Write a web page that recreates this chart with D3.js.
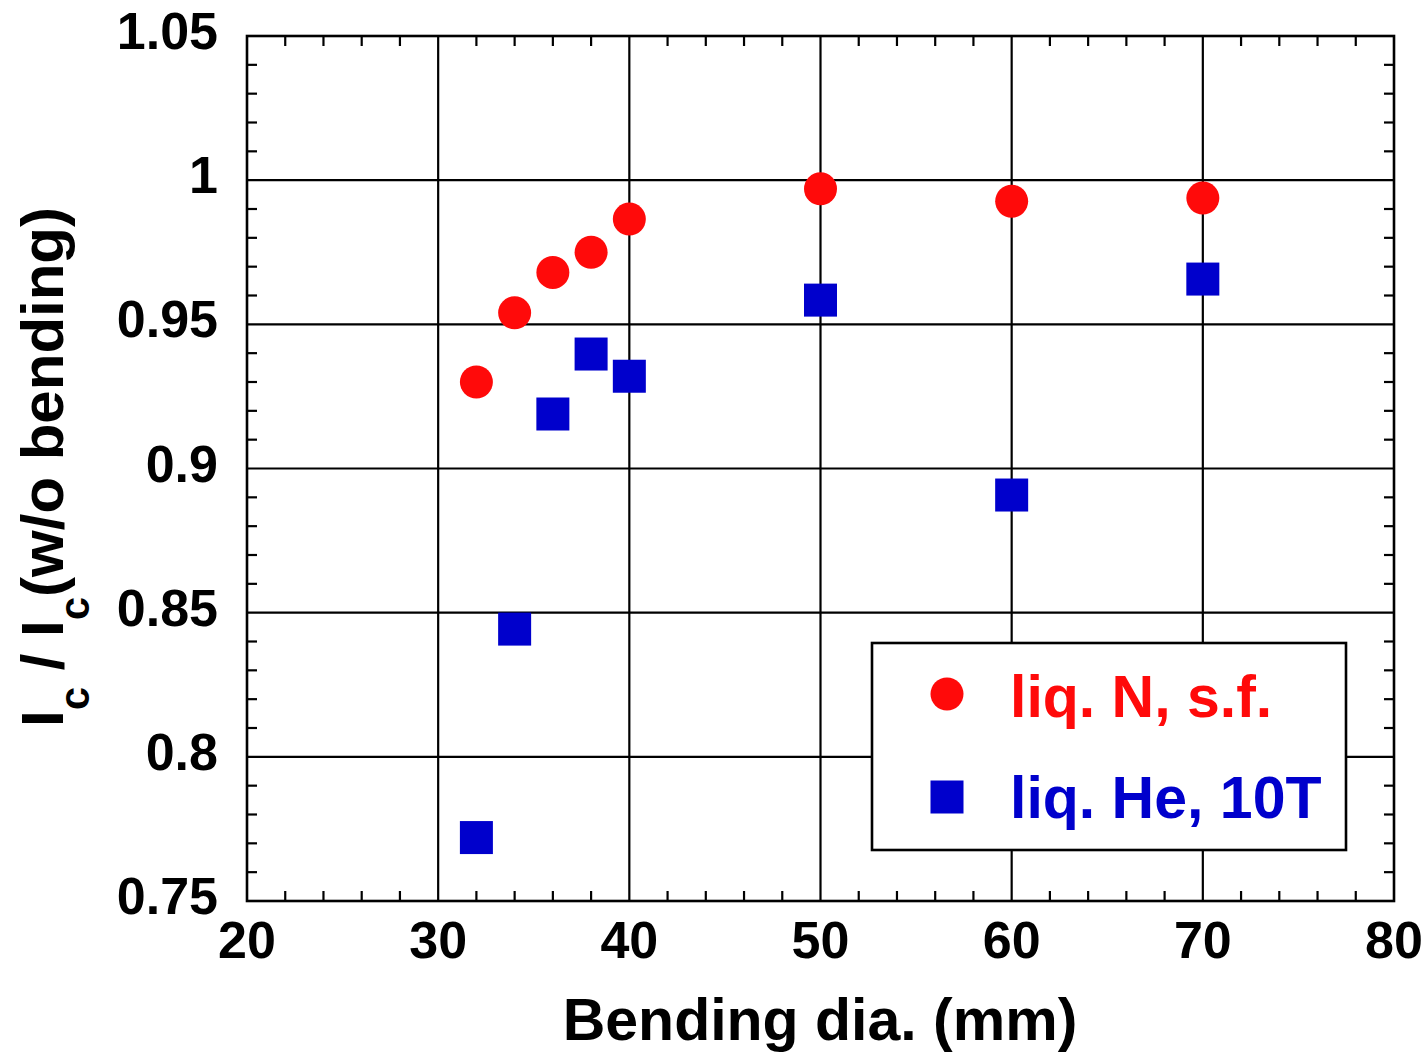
<!DOCTYPE html>
<html>
<head>
<meta charset="utf-8">
<script src="https://cdn.jsdelivr.net/npm/d3@7"></script>
<style>
html,body{margin:0;padding:0;background:#fff;}
svg text{font-family:"Liberation Sans",Arial,sans-serif;font-weight:bold;}
</style>
</head>
<body>
<svg id="chart" width="1427" height="1057"></svg>
<script>
// Data
const bendingDia = [32, 34, 36, 38, 40, 50, 60, 70];
const liqN = [0.930, 0.954, 0.968, 0.975, 0.9865, 0.997, 0.9927, 0.9938];
const liqHe = [0.772, 0.8443, 0.9189, 0.9397, 0.932, 0.9584, 0.8908, 0.9657];
const xTicks = [20, 30, 40, 50, 60, 70, 80];
const yTicks = [0.75, 0.8, 0.85, 0.9, 0.95, 1.0, 1.05];
const yTickLabels = ["0.75", "0.8", "0.85", "0.9", "0.95", "1", "1.05"];
const seriesNames = ["liq. N, s.f.", "liq. He, 10T"];
const seriesColors = ["#ff0a0a", "#0000cc"];

const svg = d3.select("#chart");
const L = 247, R = 1394, T = 36, B = 901;
const x = d3.scaleLinear().domain([20, 80]).range([L, R]);
const y = d3.scaleLinear().domain([0.75, 1.05]).range([B, T]);

// grid lines
const g = svg.append("g");
g.selectAll("line.vx").data(xTicks.slice(1, -1)).enter().append("line")
  .attr("x1", d => x(d)).attr("x2", d => x(d)).attr("y1", T).attr("y2", B)
  .attr("stroke", "#000").attr("stroke-width", 2.2);
g.selectAll("line.hy").data(yTicks.slice(1, -1)).enter().append("line")
  .attr("x1", L).attr("x2", R).attr("y1", d => y(d)).attr("y2", d => y(d))
  .attr("stroke", "#000").attr("stroke-width", 2.2);

// minor ticks
const xMinor = d3.range(20, 80.001, 2).filter(v => v % 10 !== 0);
const yMinor = d3.range(75, 105.001, 1).map(v => v / 100).filter((v, i) => (i % 5) !== 0);
const tl = 10;
xMinor.forEach(v => {
  g.append("line").attr("x1", x(v)).attr("x2", x(v)).attr("y1", B).attr("y2", B - tl).attr("stroke", "#000").attr("stroke-width", 2.2);
  g.append("line").attr("x1", x(v)).attr("x2", x(v)).attr("y1", T).attr("y2", T + tl).attr("stroke", "#000").attr("stroke-width", 2.2);
});
yMinor.forEach(v => {
  g.append("line").attr("x1", L).attr("x2", L + tl).attr("y1", y(v)).attr("y2", y(v)).attr("stroke", "#000").attr("stroke-width", 2.2);
  g.append("line").attr("x1", R).attr("x2", R - tl).attr("y1", y(v)).attr("y2", y(v)).attr("stroke", "#000").attr("stroke-width", 2.2);
});

// frame
svg.append("rect").attr("x", L).attr("y", T).attr("width", R - L).attr("height", B - T)
  .attr("fill", "none").attr("stroke", "#000").attr("stroke-width", 2.6);

// tick labels
svg.selectAll("text.xt").data(xTicks).enter().append("text")
  .attr("x", d => x(d)).attr("y", 958).attr("text-anchor", "middle")
  .attr("font-size", 52).text(d => d);
svg.selectAll("text.yt").data(yTicks).enter().append("text")
  .attr("x", 218).attr("y", d => y(d) + 13).attr("text-anchor", "end")
  .attr("font-size", 52).text((d, i) => yTickLabels[i]);

// axis titles
svg.append("text").attr("x", 820).attr("y", 1040).attr("text-anchor", "middle")
  .attr("font-size", 59).text("Bending dia. (mm)");

const yt = svg.append("text").attr("transform", "translate(63,467) rotate(-90)")
  .attr("text-anchor", "middle").attr("font-size", 60);
yt.append("tspan").text("I");
yt.append("tspan").attr("font-size", 42).attr("dy", 26).text("c");
yt.append("tspan").attr("dy", -26).text(" / I");
yt.append("tspan").attr("font-size", 42).attr("dy", 26).text("c");
yt.append("tspan").attr("dy", -26).text("(w/o bending)");

// markers
const s = 33;
svg.selectAll("rect.he").data(bendingDia).enter().append("rect")
  .attr("x", (d) => x(d) - s / 2).attr("y", (d, i) => y(liqHe[i]) - s / 2)
  .attr("width", s).attr("height", s).attr("fill", seriesColors[1]);
svg.selectAll("circle.n").data(bendingDia).enter().append("circle")
  .attr("cx", d => x(d)).attr("cy", (d, i) => y(liqN[i])).attr("r", s / 2)
  .attr("fill", seriesColors[0]);

// legend
const lg = svg.append("g");
lg.append("rect").attr("x", 872).attr("y", 643).attr("width", 474).attr("height", 207)
  .attr("fill", "#fff").attr("stroke", "#000").attr("stroke-width", 2.6);
lg.append("circle").attr("cx", 947).attr("cy", 694).attr("r", s / 2).attr("fill", seriesColors[0]);
lg.append("rect").attr("x", 947 - s / 2).attr("y", 797 - s / 2).attr("width", s).attr("height", s).attr("fill", seriesColors[1]);
lg.append("text").attr("x", 1010).attr("y", 717).attr("font-size", 59).attr("fill", seriesColors[0]).text(seriesNames[0]);
lg.append("text").attr("x", 1010).attr("y", 818).attr("font-size", 59).attr("fill", seriesColors[1]).text(seriesNames[1]);
</script>
</body>
</html>
